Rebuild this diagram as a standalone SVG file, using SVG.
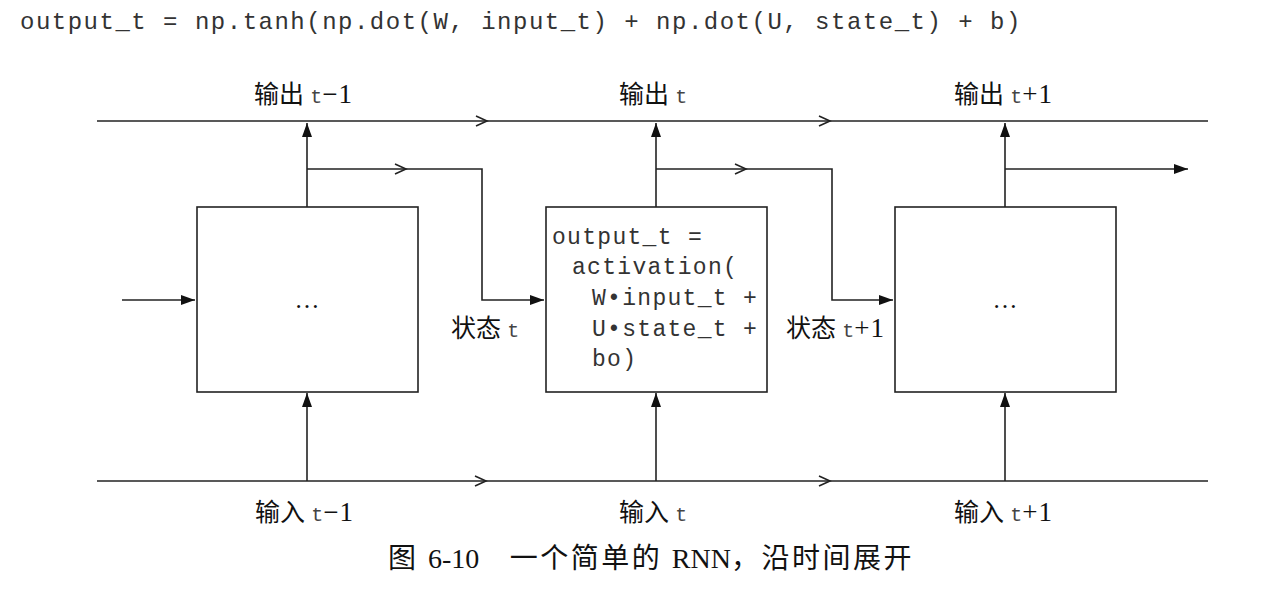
<svg xmlns="http://www.w3.org/2000/svg" width="1266" height="596" viewBox="0 0 1266 596">
<style>
.ln{stroke:#222;stroke-width:1.6;fill:none}
.box{stroke:#222;stroke-width:1.6;fill:#fff}
.chev{stroke:#222;stroke-width:1.6;fill:none}
.code{font-family:"Liberation Mono","DejaVu Sans Mono",monospace;font-size:24px;letter-spacing:1.5px;fill:#333}
.bcode{font-family:"Liberation Mono","DejaVu Sans Mono",monospace;font-size:23px;letter-spacing:1.3px;fill:#333}
.lbl{font-family:"Liberation Serif","Noto Sans CJK SC",serif;font-size:25px;fill:#111}
.mono{font-family:"Liberation Mono",monospace;font-size:20px;fill:#444}
.num{font-size:27px;letter-spacing:1px}
.cap{font-family:"Liberation Serif","Noto Sans CJK SC",serif;font-size:28px;letter-spacing:2.5px;fill:#111}
.lat{letter-spacing:0}
</style>
<defs>
<marker id="ah" viewBox="0 0 14 10" refX="14" refY="5" markerWidth="14" markerHeight="10" markerUnits="userSpaceOnUse" orient="auto">
<path d="M0,0 L14,5 L0,10 Z" fill="#111"/>
</marker>
</defs>

<text class="code" x="20" y="29">output_t = np.tanh(np.dot(W, input_t) + np.dot(U, state_t) + b)</text>

<g id="connectors">
  <line class="ln" x1="97" y1="121" x2="1208" y2="121"/>
  <polyline class="chev" points="476,116 487,121 476,126"/>
  <polyline class="chev" points="819,116 830,121 819,126"/>
  <line class="ln" x1="97" y1="481" x2="1208" y2="481"/>
  <polyline class="chev" points="475,476 486,481 475,486"/>
  <polyline class="chev" points="819,476 830,481 819,486"/>
  <line class="ln" x1="307" y1="207" x2="307" y2="123" marker-end="url(#ah)"/>
  <line class="ln" x1="656" y1="207" x2="656" y2="123" marker-end="url(#ah)"/>
  <line class="ln" x1="1005" y1="207" x2="1005" y2="123" marker-end="url(#ah)"/>
  <line class="ln" x1="307" y1="481" x2="307" y2="393" marker-end="url(#ah)"/>
  <line class="ln" x1="656" y1="481" x2="656" y2="393" marker-end="url(#ah)"/>
  <line class="ln" x1="1005" y1="481" x2="1005" y2="393" marker-end="url(#ah)"/>
  <polyline class="ln" points="307,169 482,169 482,300 544,300" marker-end="url(#ah)"/>
  <polyline class="chev" points="395,164 406,169 395,174"/>
  <polyline class="ln" points="656,169 832,169 832,300 893,300" marker-end="url(#ah)"/>
  <polyline class="chev" points="735,164 746,169 735,174"/>
  <line class="ln" x1="1005" y1="169" x2="1188" y2="169" marker-end="url(#ah)"/>
  <line class="ln" x1="122" y1="300" x2="195" y2="300" marker-end="url(#ah)"/>
</g>

<g id="cell1">
  <rect class="box" x="197" y="207" width="221" height="185"/>
  <text class="lbl" x="307" y="308" text-anchor="middle">…</text>
</g>
<g id="cell2">
  <rect class="box" x="546" y="207" width="221" height="185"/>
  <text class="bcode" x="552" y="244">output_t =</text>
  <text class="bcode" x="572" y="274">activation(</text>
  <text class="bcode" x="592" y="305">W•input_t +</text>
  <text class="bcode" x="592" y="336">U•state_t +</text>
  <text class="bcode" x="592" y="366">bo)</text>
</g>
<g id="cell3">
  <rect class="box" x="895" y="207" width="221" height="185"/>
  <text class="lbl" x="1005" y="308" text-anchor="middle">…</text>
</g>

<g id="labels">
  <text class="lbl" x="254" y="103">输出 <tspan class="mono">t</tspan><tspan class="num">−1</tspan></text>
  <text class="lbl" x="619" y="103">输出 <tspan class="mono">t</tspan></text>
  <text class="lbl" x="954" y="103">输出 <tspan class="mono">t</tspan><tspan class="num">+1</tspan></text>
  <text class="lbl" x="255" y="521">输入 <tspan class="mono">t</tspan><tspan class="num">−1</tspan></text>
  <text class="lbl" x="619" y="521">输入 <tspan class="mono">t</tspan></text>
  <text class="lbl" x="954" y="521">输入 <tspan class="mono">t</tspan><tspan class="num">+1</tspan></text>
  <text class="lbl" x="451" y="337">状态 <tspan class="mono">t</tspan></text>
  <text class="lbl" x="786" y="337">状态 <tspan class="mono">t</tspan><tspan class="num">+1</tspan></text>
</g>

<text class="cap" x="388" y="568">图 <tspan class="lat">6-10</tspan>　一个简单的 <tspan class="lat">RNN</tspan>，沿时间展开</text>
</svg>
